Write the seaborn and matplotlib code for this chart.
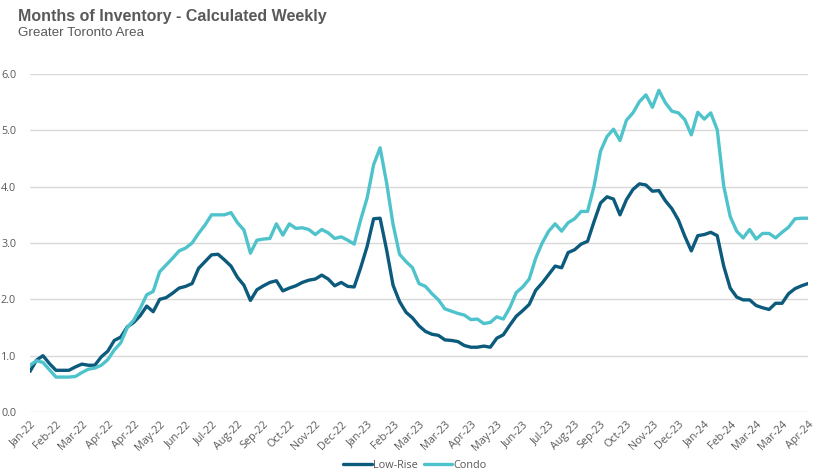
import matplotlib
matplotlib.use("Agg")
import matplotlib.pyplot as plt
import seaborn as sns
import pandas as pd
import numpy as np
from matplotlib.lines import Line2D

# ---- data (weekly, Jan-2022 .. Apr-2024) ----
low_rise = [0.72, 0.92, 1.00, 0.86, 0.74, 0.74, 0.74, 0.80, 0.85, 0.83,
            0.83, 0.98, 1.08, 1.27, 1.33, 1.51, 1.59, 1.71, 1.88, 1.78,
            2.00, 2.03, 2.11, 2.20, 2.23, 2.28, 2.55, 2.67, 2.79, 2.80,
            2.70, 2.59, 2.39, 2.25, 1.98, 2.17, 2.24, 2.30, 2.33, 2.15,
            2.20, 2.24, 2.30, 2.34, 2.36, 2.43, 2.36, 2.24, 2.30, 2.23,
            2.22, 2.56, 2.94, 3.43, 3.44, 2.88, 2.25, 1.96, 1.77, 1.67,
            1.53, 1.43, 1.38, 1.36, 1.28, 1.27, 1.25, 1.18, 1.15, 1.15,
            1.17, 1.15, 1.31, 1.37, 1.54, 1.70, 1.80, 1.91, 2.16, 2.29,
            2.44, 2.59, 2.56, 2.83, 2.88, 2.98, 3.03, 3.38, 3.71, 3.82,
            3.78, 3.50, 3.77, 3.95, 4.05, 4.03, 3.92, 3.93, 3.75, 3.61,
            3.41, 3.12, 2.86, 3.13, 3.15, 3.19, 3.13, 2.59, 2.20, 2.04,
            1.99, 1.99, 1.89, 1.85, 1.82, 1.93, 1.93, 2.10, 2.19, 2.24,
            2.28]
condo = [0.83, 0.91, 0.88, 0.75, 0.62, 0.62, 0.62, 0.63, 0.70, 0.76,
         0.78, 0.83, 0.93, 1.10, 1.23, 1.50, 1.63, 1.84, 2.08, 2.14,
         2.49, 2.61, 2.73, 2.86, 2.91, 3.00, 3.17, 3.32, 3.50, 3.50,
         3.50, 3.54, 3.36, 3.23, 2.82, 3.05, 3.07, 3.08, 3.34, 3.14,
         3.34, 3.26, 3.27, 3.24, 3.15, 3.24, 3.18, 3.08, 3.11, 3.05,
         2.98, 3.41, 3.80, 4.39, 4.69, 4.07, 3.33, 2.80, 2.67, 2.56,
         2.28, 2.23, 2.10, 1.99, 1.83, 1.79, 1.75, 1.72, 1.64, 1.65,
         1.57, 1.59, 1.69, 1.65, 1.85, 2.12, 2.22, 2.36, 2.73, 3.00,
         3.21, 3.34, 3.21, 3.36, 3.43, 3.56, 3.56, 4.01, 4.63, 4.89,
         5.02, 4.82, 5.18, 5.31, 5.51, 5.63, 5.41, 5.71, 5.49, 5.34,
         5.31, 5.19, 4.92, 5.32, 5.20, 5.31, 5.01, 4.01, 3.47, 3.21,
         3.09, 3.24, 3.07, 3.17, 3.17, 3.09, 3.19, 3.28, 3.43, 3.44,
         3.44]
tick_labels = ["Jan-22", "Feb-22", "Mar-22", "Apr-22", "Apr-22", "May-22",
               "Jun-22", "Jul-22", "Aug-22", "Sep-22", "Oct-22", "Nov-22",
               "Dec-22", "Jan-23", "Feb-23", "Mar-23", "Mar-23", "Apr-23",
               "May-23", "Jun-23", "Jul-23", "Aug-23", "Sep-23", "Oct-23",
               "Nov-23", "Dec-23", "Jan-24", "Feb-24", "Mar-24", "Mar-24",
               "Apr-24"]
series_names = ["Low-Rise", "Condo"]
colors = ["#0C5A7C", "#4FC3CC"]

weeks = np.arange(len(low_rise))
df = pd.DataFrame({
    "week": np.concatenate([weeks, weeks]),
    "value": low_rise + condo,
    "series": [series_names[0]] * len(low_rise) + [series_names[1]] * len(condo),
})

sns.set_style("white")
plt.rcParams["font.family"] = ["Open Sans", "DejaVu Sans"]

fig = plt.figure(figsize=(8.17, 4.75), dpi=100)
ax = fig.add_axes([30 / 817, 1 - 412 / 475, 778 / 817, 338 / 475])

sns.lineplot(data=df, x="week", y="value", hue="series",
             palette=dict(zip(series_names, colors)), linewidth=2.4,
             ax=ax, legend=False)

ax.set_xlim(0, len(low_rise) - 1)
ax.set_ylim(0, 6)
ax.set_yticks(np.arange(0, 6.01, 1.0))
ax.set_yticklabels([f"{v:.1f}" for v in np.arange(0, 6.01, 1.0)])
ax.set_xticks(np.arange(0, len(low_rise), 4))
ax.set_xticklabels(tick_labels, rotation=45, ha="right", va="top",
                   rotation_mode="anchor")
ax.tick_params(axis="both", length=0, labelsize=7.8, colors="#595959")
ax.tick_params(axis="y", pad=10)
ax.tick_params(axis="x", pad=5)
ax.grid(axis="y", color="#D9D9D9", linewidth=1)
ax.set_axisbelow(True)
for s in ax.spines.values():
    s.set_visible(False)
ax.set_xlabel("")
ax.set_ylabel("")

# legend
handles = [Line2D([0], [0], color=c, linewidth=2.4) for c in colors]
fig.legend(handles, series_names, loc="center", bbox_to_anchor=(415 / 817, 1 - 465 / 475),
           ncol=2, frameon=False, fontsize=7.8, handlelength=2.6, handletextpad=0.1,
           columnspacing=0.6, labelcolor="#595959")

fig.text(18 / 817, 1 - 16 / 475, "Months of Inventory - Calculated Weekly",
         fontsize=11.5, fontweight="bold", color="#595959",
         family=["Liberation Sans", "DejaVu Sans"], va="center", ha="left")
fig.text(18 / 817, 1 - 33 / 475, "Greater Toronto Area",
         fontsize=9.7, color="#595959",
         family=["Liberation Sans", "DejaVu Sans"], va="center", ha="left")

fig.savefig("out.png", dpi=100)
